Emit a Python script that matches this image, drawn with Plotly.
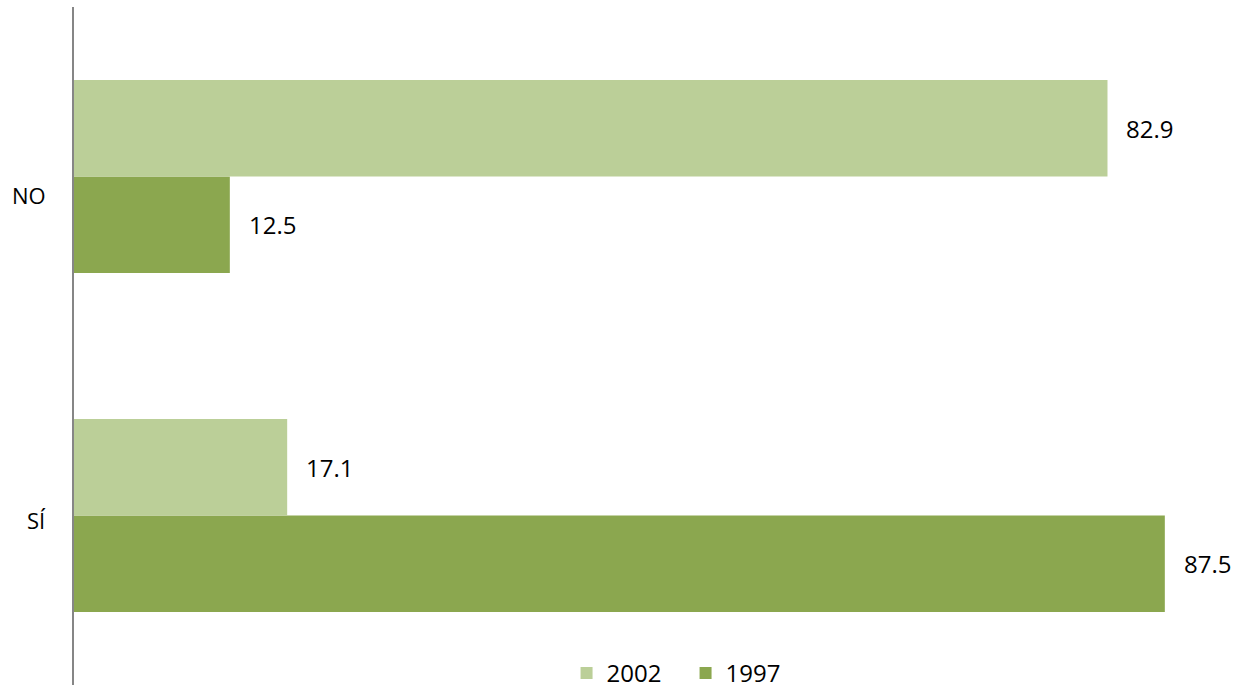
import plotly.graph_objects as go

categories = ["SÍ", "NO"]
series_names = ["2002", "1997"]
values_2002 = [17.1, 82.9]
values_1997 = [87.5, 12.5]

colors = {"2002": "#BBCF98", "1997": "#8BA74F"}
FONT = "Open Sans"
FS = 24

fig = go.Figure()
# first trace is drawn at the bottom of each group
fig.add_trace(go.Bar(y=categories, x=values_1997, name="1997", orientation="h",
                     marker=dict(color=colors["1997"], line=dict(width=0))))
fig.add_trace(go.Bar(y=categories, x=values_2002, name="2002", orientation="h",
                     marker=dict(color=colors["2002"], line=dict(width=0))))

annotations = []
group_shift = {"2002": 48, "1997": -48}
for name, vals in (("2002", values_2002), ("1997", values_1997)):
    for cat, v in zip(categories, vals):
        annotations.append(dict(x=v, y=cat, xref="x", yref="y", text=f"{v:.1f}",
                                showarrow=False, xanchor="left", yanchor="middle",
                                xshift=17, yshift=group_shift[name],
                                font=dict(family=FONT, size=FS, color="#000000")))

label_shift = {"SÍ": -4, "NO": -18}
for cat in categories:
    annotations.append(dict(x=0, y=cat, xref="paper", yref="y", text=cat,
                            showarrow=False, xanchor="right", yanchor="middle",
                            xshift=-26, yshift=label_shift[cat],
                            font=dict(family=FONT, size=22, color="#000000")))

fig.update_layout(
    width=1248, height=689,
    margin=dict(l=74, r=52, t=7, b=4, autoexpand=False),
    paper_bgcolor="white", plot_bgcolor="white",
    barmode="group", bargap=0.43, bargroupgap=0,
    font=dict(family=FONT, size=FS, color="#000000"),
    xaxis=dict(range=[0, 90], visible=False, showgrid=False, zeroline=False),
    yaxis=dict(type="category", categoryorder="array", categoryarray=categories,
               range=[-0.5, 1.5], showticklabels=False, ticks="",
               showline=True, linecolor="#868686", linewidth=2,
               showgrid=False, zeroline=False),
    legend=dict(orientation="h", x=0.439, xanchor="left", y=0.017, yanchor="middle",
                traceorder="reversed", entrywidth=74, entrywidthmode="pixels",
                font=dict(family=FONT, size=FS),
                bgcolor="rgba(0,0,0,0)"),
    annotations=annotations,
    showlegend=True,
)

fig.write_html("out.html", config={"displayModeBar": False},
               post_script="document.body.style.margin='0';document.body.style.overflow='hidden';")
